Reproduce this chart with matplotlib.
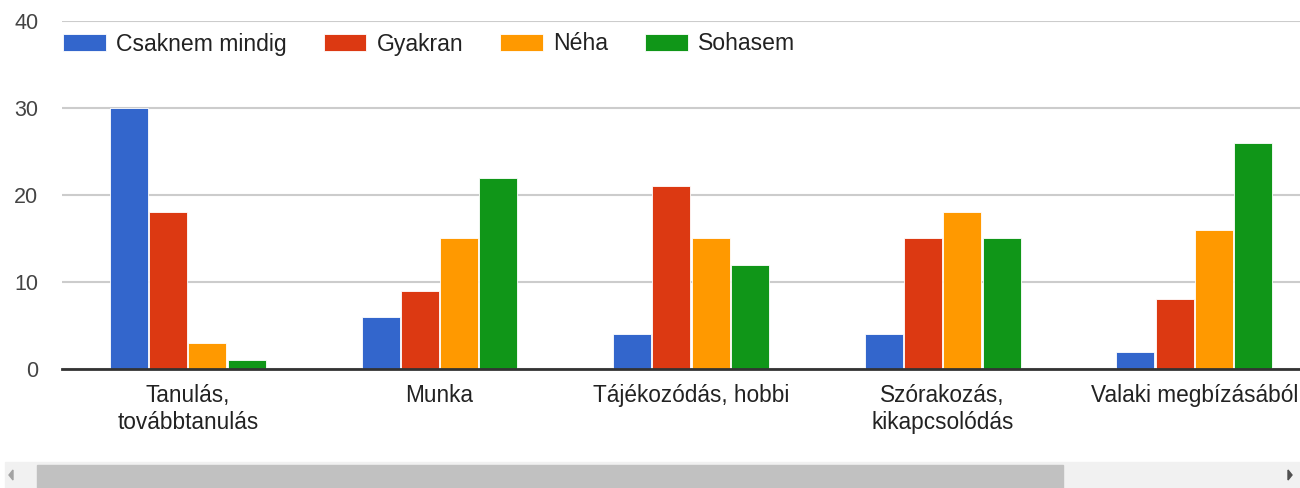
import numpy as np
import matplotlib.pyplot as plt
from matplotlib.patches import Rectangle, Polygon

plt.rcParams['font.family'] = ['Liberation Sans', 'DejaVu Sans']

# ---- data
categories = ["Tanulás,\ntovábbtanulás", "Munka", "Tájékozódás, hobbi",
              "Szórakozás,\nkikapcsolódás", "Valaki megbízásából"]
series_names = ["Csaknem mindig", "Gyakran", "Néha", "Sohasem"]
csaknem_mindig = [30, 6, 4, 4, 2]
gyakran = [18, 9, 21, 15, 8]
neha = [3, 15, 15, 18, 16]
sohasem = [1, 22, 12, 15, 26]
y_ticks = [0, 10, 20, 30, 40]

series = [csaknem_mindig, gyakran, neha, sohasem]
colors = ["#3366cc", "#dc3912", "#ff9900", "#109618"]

W, H = 1300, 488
fig = plt.figure(figsize=(W / 100, H / 100), dpi=100)
ax = fig.add_axes([62 / W, 1 - 369 / H, (W - 62) / W, (369 - 21) / H])

x = np.arange(len(categories))
bw = 0.151
step = 0.156
for k, (vals, name, c) in enumerate(zip(series, series_names, colors)):
    ax.bar(x + (k - 1.5) * step, vals, width=bw, color=c, label=name,
           edgecolor="white", linewidth=0.6, zorder=3)

ax.set_xlim(-0.5, 4.42)
ax.set_ylim(0, 40)
ax.set_yticks(y_ticks)
ax.set_xticks(x)
ax.set_xticklabels(categories, fontsize=16.3, color="#222222", linespacing=1.2)
ax.tick_params(axis="x", length=0, pad=11)
ax.tick_params(axis="y", length=0, pad=17, labelsize=15.5, labelcolor="#444444")

ax.grid(axis="y", color="#cccccc", linewidth=1.5, zorder=0)
for s in ["top", "right", "left"]:
    ax.spines[s].set_visible(False)
ax.spines["bottom"].set_color("#333333")
ax.spines["bottom"].set_linewidth(2)
ax.spines["bottom"].set_zorder(4)

leg = ax.legend(loc="center left", bbox_to_anchor=(63 / W, 1 - 44 / H),
                bbox_transform=fig.transFigure, ncol=4, frameon=False,
                fontsize=16.6, handlelength=1.85, handleheight=0.82,
                handletextpad=0.45, columnspacing=1.6, borderpad=0,
                borderaxespad=0)
for t in leg.get_texts():
    t.set_color("#222222")

# ---- scrollbar decoration
fig.patches.append(Rectangle((5 / W, 0), (W - 5) / W, 26 / H,
                             transform=fig.transFigure, color="#f1f1f1", zorder=0))
fig.patches.append(Rectangle((37 / W, 0), (1063 - 37) / W, 23 / H,
                             transform=fig.transFigure, color="#c1c1c1", zorder=1))
fig.patches.append(Polygon([(9 / W, 1 - 475 / H), (13 / W, 1 - 470 / H), (13 / W, 1 - 480 / H)],
                           closed=True, transform=fig.transFigure, color="#a3a3a3", zorder=1))
fig.patches.append(Polygon([(1292 / W, 1 - 475 / H), (1288 / W, 1 - 470 / H), (1288 / W, 1 - 480 / H)],
                           closed=True, transform=fig.transFigure, color="#505050", zorder=1))

fig.savefig("out.png", dpi=100)
